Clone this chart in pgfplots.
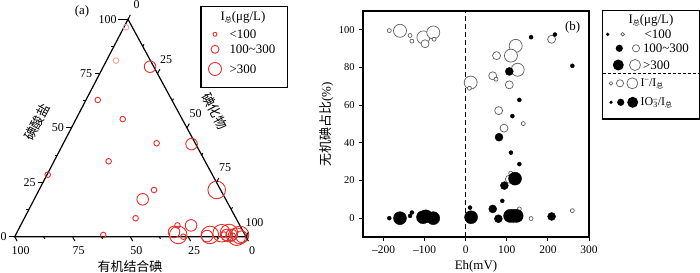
\documentclass[border=0pt]{standalone}
\usepackage{pgfplots}
\pgfplotsset{compat=1.18}
\usetikzlibrary{calc}
\usepackage{fontspec}
\setmainfont{Liberation Serif}
\newfontfamily\cjk{Noto Sans CJK SC}
\definecolor{tred}{HTML}{E8302A}
\definecolor{tpink}{HTML}{F2A09B}
\definecolor{ogray}{HTML}{5E5E5E}
\newcommand{\zong}{\raisebox{-0.35ex}{\fontsize{7}{7}\selectfont\cjk 总}}
\begin{document}
\fontsize{13}{15.6}\selectfont
\begin{tikzpicture}
\useasboundingbox (0bp,0bp) rectangle (700bp,273bp);

% ---------------- (a) ternary diagram ----------------
\begin{axis}[at={(14.7bp,36.3bp)}, anchor=south west, width=231.3bp, height=217.4bp,
  scale only axis, xmin=0, xmax=100, ymin=0, ymax=100, hide axis, clip=false]
\coordinate (L) at (axis cs:0,0);
\coordinate (R) at (axis cs:100,0);
\coordinate (T) at (axis cs:49,100);
\draw[line width=1.2bp] (axis cs:0,0) -- (axis cs:100,0) -- (axis cs:49,100) -- cycle;
% columns: a = iodate (%), i = iodide (%), o = organic iodine (%)
\addplot[only marks, mark=o, mark size=2.8bp, mark options={draw=tpink, line width=0.9bp}]
  table[row sep=\\, x expr=\thisrow{i}+0.49*\thisrow{a}, y=a] {
  a i o\\ 96.3 0.9 2.8\\ 81.0 4.1 14.9\\ };
\addplot[only marks, mark=o, mark size=2.8bp, mark options={draw=tred, line width=0.9bp}]
  table[row sep=\\, x expr=\thisrow{i}+0.49*\thisrow{a}, y=a] {
  a i o\\ 62.9 5.1 32.0\\ 54.1 20.2 25.7\\ 43.0 40.3 16.7\\ 34.7 23.6 41.7\\
  28.5 0.3 71.2\\ 21.5 49.7 28.8\\ 8.5 48.1 43.4\\ 0.8 37.9 61.3\\
  5.2 67.8 27.0\\ 0.0 72.9 27.1\\ 0.5 94.0 5.5\\ 1.0 90.0 9.0\\ };
\addplot[only marks, mark=o, mark size=5.8bp, mark options={draw=tred, line width=0.9bp}]
  table[row sep=\\, x expr=\thisrow{i}+0.49*\thisrow{a}, y=a] {
  a i o\\ 78.2 20.2 1.6\\ 42.6 55.6 1.8\\ 17.2 46.9 35.9\\ 5.2 73.7 21.1\\
  2.2 67.8 30.0\\ 0.8 91.3 7.9\\ 0.8 93.4 5.8\\ 0.0 98.1 1.9\\ 0.3 83.0 16.7\\ };
\addplot[only marks, mark=o, mark size=8.8bp, mark options={draw=tred, line width=0.9bp}]
  table[row sep=\\, x expr=\thisrow{i}+0.49*\thisrow{a}, y=a] {
  a i o\\ 21.5 76.8 1.7\\ 0.8 70.3 28.9\\ 0.8 84.0 15.2\\ 1.6 88.7 9.7\\
  0.0 96.0 4.0\\ 1.7 91.8 6.5\\ 0.8 97.0 2.2\\ };
\end{axis}

\begin{scope}[x=1bp,y=1bp]
% ternary ticks and labels
\begin{scope}[line width=1bp, font=\fontsize{12}{12}\selectfont]
\foreach \a in {25,50,75} {
  \draw ($(L)!\a/100!(T)$) -- ++(-5,0);
  \node[anchor=east, inner sep=0pt] at ($(L)!\a/100!(T)+(-7,0)$) {\a};
}
\draw (L) -- ++(-6,0); \node[anchor=east, inner sep=0pt] at ($(L)+(-7.5,0)$) {0};
\draw (T) -- ++(-10,0); \node[anchor=east, inner sep=0pt] at ($(T)+(-11,0)$) {100};
\foreach \a in {12.5,37.5,62.5,87.5} { \draw ($(L)!\a/100!(T)$) -- ++(-2.5,0); }
\foreach \o in {0,25,50,75,100} {
  \draw ($(R)!\o/100!(L)$) -- ++(2.4,-4.4);
  \node at ($(R)!\o/100!(L)+(6,-13.5)$) {\o};
}
\foreach \o in {12.5,37.5,62.5,87.5} { \draw ($(R)!\o/100!(L)$) -- ++(1.2,-2.2); }
\foreach \i in {0,25,50,75,100} {
  \draw ($(T)!\i/100!(R)$) -- ++(2.3,4.4);
  \node at ($(T)!\i/100!(R)+(8.5,14.5)$) {\i};
}
\foreach \i in {12.5,37.5,62.5,87.5} { \draw ($(T)!\i/100!(R)$) -- ++(1.2,2.2); }
\end{scope}
\node[rotate=62, inner sep=0pt] at (37,151) {\cjk 碘酸盐};
\node[rotate=-62, inner sep=0pt] at (215,162) {\cjk 碘化物};
\node at (130,6.3) {\cjk 有机结合碘};
\node at (82,262) {(a)};

% legend (a)
\draw[line width=1.3bp] (201,185.7) rectangle (287.3,266.3);
\node at (243,256) {I\zong(μg/L)};
\draw[tred, line width=0.9bp] (215,238.7) circle[radius=2bp];
\node[anchor=west] at (225,238.7) {<100};
\draw[tred, line width=0.9bp] (215,223.7) circle[radius=4bp];
\node[anchor=west] at (225,223.7) {100\textasciitilde300};
\draw[tred, line width=0.9bp] (215,204) circle[radius=6.5bp];
\node[anchor=west] at (225,204) {>300};
\end{scope}

% ---------------- (b) Eh scatter ----------------
\begin{axis}[at={(363bp,36bp)}, anchor=south west, width=226bp, height=226bp,
  scale only axis, xmin=-250, xmax=300, ymin=-10, ymax=110,
  xtick={-200,-100,0,100,200,300}, xticklabels={–200,–100,0,100,200,300},
  ytick={0,20,40,60,80,100},
  xtick pos=bottom, ytick pos=left, tick align=outside, major tick length=4bp,
  tick style={line width=1bp, black}, axis line style={line width=1.2bp},
  x tick label style={font=\fontsize{11.5}{11.5}\selectfont},
  y tick label style={font=\fontsize{10.5}{10.5}\selectfont},
  /pgf/number format/assume math mode=true,
  xlabel={Eh(mV)}, ylabel={{\cjk 无机碘占比}(\%)},
  xlabel style={at={(axis description cs:0.5,-0.131)}, anchor=center},
  ylabel style={at={(axis description cs:-0.161,0.5)}, anchor=center}]
\draw[line width=1.2bp, dash pattern=on 5bp off 3bp] (axis cs:0,-10) -- (axis cs:0,110);
% I- / I_total (open circles)
\addplot[only marks, mark=*, mark size=6.5bp, mark options={draw=ogray, fill=white, line width=0.7bp}]
  coordinates {(-160,99.5) (-103,96) (-79,98.6) (12,72) (121.6,91.5) (110,86.3) (126.5,78.8)};
\addplot[only marks, mark=*, mark size=4bp, mark options={draw=ogray, fill=white, line width=0.7bp}]
  coordinates {(-99,92.6) (75,86.3) (65.7,75.6) (106,70.8) (80.2,57.1) (93.2,47.8) (106,20.7) (209,95)};
\addplot[only marks, mark=*, mark size=2bp, mark options={draw=ogray, fill=white, line width=0.7bp}]
  coordinates {(-186,99.6) (-135.5,97) (-131,94) (-77,95) (9,69) (73.7,73.8) (140,50.2) (109.5,23.9) (130.5,4.9) (159,-0.2) (259.5,4)};
% IO3- / I_total (filled circles)
\addplot[only marks, mark=*, mark size=6.5bp, mark options={draw=black, fill=black}]
  coordinates {(-160,0) (-104,0.5) (-97,1) (-79,0) (13,0.5) (120,21) (108,1.2) (124,1.2) (116,1.2)};
\addplot[only marks, mark=*, mark size=4bp, mark options={draw=black, fill=black}]
  coordinates {(106,77.9) (81,43) (94,17.3) (65.7,4.9) (79.4,-0.3) (209,0.9)};
\addplot[only marks, mark=*, mark size=2bp, mark options={draw=black, fill=black}]
  coordinates {(-186,0) (-135.5,1.2) (-131,3) (10.5,5.6) (159,96.1) (217,97.5) (259.5,80.9) (130.5,62.8) (113.5,54.2) (110,34.8) (130.5,28.7) (89,9.2)};
\end{axis}

\begin{scope}[x=1bp,y=1bp]
\node at (572.7,245.7) {(b)};
% legend (b)
\draw[line width=1.3bp] (602.7,154) rectangle (699.3,262.3);
\node at (651,252.3) {I\zong(μg/L)};
\fill (607.7,238.7) circle[radius=1.8bp];
\draw[ogray, line width=0.7bp] (622.7,238.7) circle[radius=1.8bp];
\node[anchor=west] at (640,238.7) {<100};
\fill (619.3,224.7) circle[radius=3.6bp];
\draw[ogray, line width=0.7bp] (636,224.7) circle[radius=3.6bp];
\node[anchor=west] at (638.5,224.7) {100\textasciitilde300};
\fill (618.3,208) circle[radius=5.5bp];
\draw[ogray, line width=0.7bp] (635,208) circle[radius=5.5bp];
\node[anchor=west] at (638.5,208) {>300};
\draw[line width=1bp, dash pattern=on 3bp off 2bp] (602.7,199) -- (699.3,199);
\draw[ogray, line width=0.7bp] (611,189.7) circle[radius=1.8bp];
\draw[ogray, line width=0.7bp] (620,189.7) circle[radius=3.6bp];
\draw[ogray, line width=0.7bp] (632.3,189.7) circle[radius=5.5bp];
\node[anchor=west, inner sep=0.5bp, font=\fontsize{12}{12}\selectfont] at (640,189.5) {I\textsuperscript{–}/I\zong};
\fill (611,170.7) circle[radius=1.8bp];
\fill (620.7,170.7) circle[radius=3.6bp];
\fill (632.7,170.7) circle[radius=5.5bp];
\node[anchor=west, inner sep=0.5bp, font=\fontsize{12}{12}\selectfont] at (640,170.2) {IO\rlap{\textsubscript{3}}\textsuperscript{–}/I\zong};
\end{scope}
\end{tikzpicture}
\end{document}
